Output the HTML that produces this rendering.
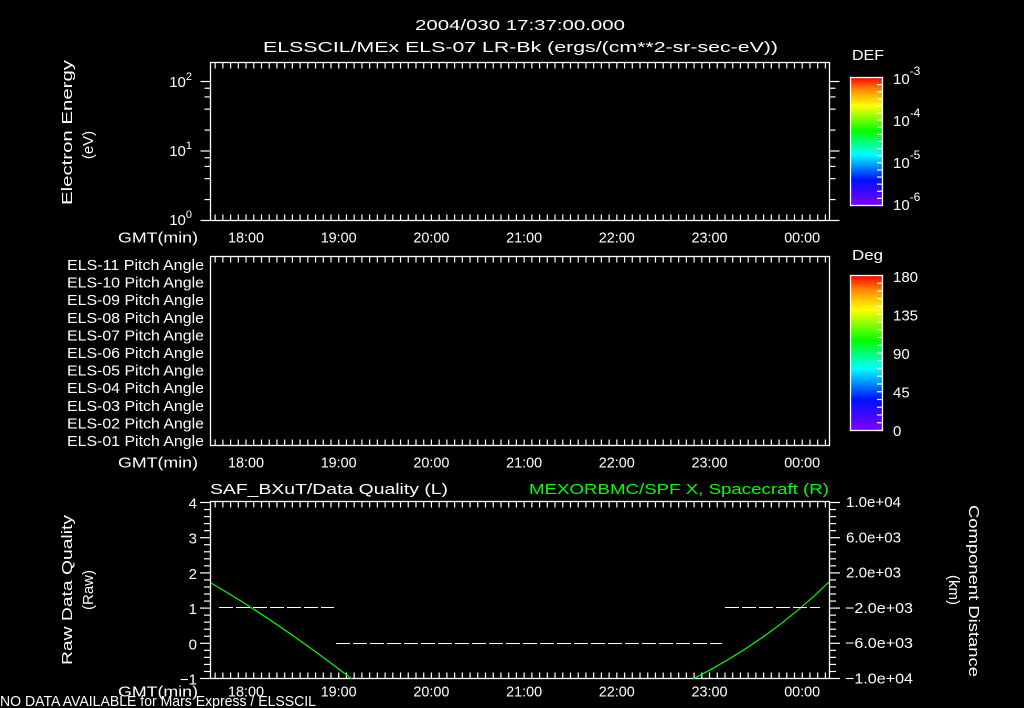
<!DOCTYPE html>
<html><head><meta charset="utf-8"><style>
html,body{margin:0;padding:0;background:#000;width:1024px;height:708px;overflow:hidden}
svg{display:block}
text{font-family:"Liberation Sans",sans-serif;fill:#fff;font-size:15px}
</style></head><body>
<svg id="s" width="1024" height="708" xmlns="http://www.w3.org/2000/svg">
<defs>
<linearGradient id="rb" x1="0" y1="1" x2="0" y2="0">
<stop offset="0" stop-color="#8000ff"/>
<stop offset="0.2" stop-color="#0010ff"/>
<stop offset="0.4" stop-color="#00ffff"/>
<stop offset="0.58" stop-color="#00ff00"/>
<stop offset="0.78" stop-color="#ffff00"/>
<stop offset="0.9" stop-color="#ff9000"/>
<stop offset="1" stop-color="#ff0000"/>
</linearGradient>
</defs>
<text x="415" y="30" font-size="17" textLength="210" lengthAdjust="spacingAndGlyphs">2004/030 17:37:00.000</text>
<text x="263" y="52" font-size="17" textLength="515" lengthAdjust="spacingAndGlyphs">ELSSCIL/MEx ELS-07 LR-Bk  (ergs/(cm**2-sr-sec-eV))</text>
<g fill="none" stroke="#fff" stroke-width="1.3">
<rect x="210.5" y="62.5" width="619" height="158"/>
<rect x="210.5" y="256.5" width="619" height="189"/>
<rect x="210.5" y="501.5" width="619" height="177"/>
<rect x="850.5" y="77.5" width="32" height="128" fill="url(#rb)"/>
<rect x="850.5" y="275.5" width="32" height="155" fill="url(#rb)"/>
</g>
<g id="g" stroke="#fff" stroke-width="1.2"></g>
<g id="t"></g>
<text transform="translate(72,205) rotate(-90)" textLength="145" lengthAdjust="spacingAndGlyphs">Electron Energy</text>
<text transform="translate(93,145) rotate(-90)" text-anchor="middle" font-size="16">(eV)</text>
<text transform="translate(72,665) rotate(-90)" textLength="150" lengthAdjust="spacingAndGlyphs">Raw Data Quality</text>
<text transform="translate(93,590) rotate(-90)" text-anchor="middle" font-size="16">(Raw)</text>
<text transform="translate(969,505) rotate(90)" textLength="172" lengthAdjust="spacingAndGlyphs">Component Distance</text>
<text transform="translate(949,590) rotate(90)" text-anchor="middle" font-size="16">(km)</text>
<text x="210" y="494" font-size="16" textLength="238" lengthAdjust="spacingAndGlyphs">SAF_BXuT/Data Quality (L)</text>
<text x="529" y="494" font-size="16" textLength="300" lengthAdjust="spacingAndGlyphs" style="fill:#00ff00">MEXORBMC/SPF X, Spacecraft (R)</text>
<text x="852" y="60" font-size="16" textLength="32" lengthAdjust="spacingAndGlyphs">DEF</text>
<text x="852" y="260" font-size="16" textLength="31" lengthAdjust="spacingAndGlyphs">Deg</text>
<text x="0" y="706" font-size="13" textLength="316" lengthAdjust="spacingAndGlyphs">NO DATA AVAILABLE for Mars  Express / ELSSCIL</text>
<path d="M211,583 Q275,620 352,679" stroke="#00ff00" fill="none" stroke-width="1.2"/>
<path d="M693,679 Q770,640 829,582" stroke="#00ff00" fill="none" stroke-width="1.2"/>
<g stroke="#fff" stroke-width="1" stroke-dasharray="14,3" shape-rendering="crispEdges">
<line x1="219" y1="607.5" x2="334" y2="607.5"/>
<line x1="336" y1="643.5" x2="722" y2="643.5"/>
<line x1="725" y1="607.5" x2="820" y2="607.5"/>
</g>
</svg>
<script>
var g=document.getElementById('g'),t=document.getElementById('t');
function L(a,b,c,d){var e=document.createElementNS('http://www.w3.org/2000/svg','line');e.setAttribute('x1',a);e.setAttribute('y1',b);e.setAttribute('x2',c);e.setAttribute('y2',d);g.appendChild(e);}
function T(x,y,s,a,fs,tl){var e=document.createElementNS('http://www.w3.org/2000/svg','text');e.setAttribute('x',x);e.setAttribute('y',y);if(a)e.setAttribute('text-anchor',a);if(fs)e.setAttribute('font-size',fs);if(tl){e.setAttribute('textLength',tl);e.setAttribute('lengthAdjust','spacingAndGlyphs');}e.innerHTML=s;t.appendChild(e);}
var x0=210.5,px=92.7/60;
[[62.5,220.5,22],[256.5,445.5,22],[501.5,678.5,18]].forEach(function(p){
 for(var m=-20;m<=420;m+=5){var x=x0+(m+3)*px;if(x<211||x>829)continue;var mm=((m+3)%60+60)%60;var h=mm==0?12:(mm==30?8:6);if(mm%15==0&&h==6)h=8;L(x,p[0],x,p[0]+h);L(x,p[1],x,p[1]-h);}
 var hrs=['18:00','19:00','20:00','21:00','22:00','23:00','00:00'];
 for(var i=0;i<7;i++){T(228+i*92.7,p[1]+p[2],hrs[i],null,16,36);}
 T(118,p[1]+p[2],'GMT(min)',null,15,80);
});
for(var d=0;d<3;d++){[1,2,4,6,8].forEach(function(k){var y=220.5-(d+Math.log10(k))*69.5;if(y<62)return;var w=k==1?10:6;L(210.5,y,210.5-w,y);L(829.5,y,829.5+w,y);});}
T(192,225,'10<tspan dy="-7" font-size="11">0</tspan>','end',17);
T(192,156,'10<tspan dy="-7" font-size="11">1</tspan>','end',17);
T(192,87,'10<tspan dy="-7" font-size="11">2</tspan>','end',17);
for(var v=-1;v<=4.001;v+=0.2){var y=678.5-(v+1)*35.2;var maj=Math.abs(v-Math.round(v))<0.01;L(210.5,y,maj?200:204,y);L(829.5,y,maj?840:836,y);}
for(var v=-1;v<=4;v++){T(197,678.5-(v+1)*35.2+6,v<0?'\u22121':''+v,'end',16);}
var rl=['1.0e+04','6.0e+03','2.0e+03','\u22122.0e+03','\u22126.0e+03','\u22121.0e+04'];
for(var i=0;i<6;i++)T(i<3?846:845,507+i*35.3,rl[i],null,15,i<3?55:68);
for(var i=0;i<=18;i++){var y=77.5+i*128/18;L(882.5,y,877,y);}
for(var i=0;i<=20;i++){var y=275.5+i*155/20;L(882.5,y,877,y);}
var dl=['-3','-4','-5','-6'];for(var i=0;i<4;i++)T(893,84+i*42,'10<tspan dy="-9" font-size="12">'+dl[i]+'</tspan>',null,19);
var gl=['180','135','90','45','0'];for(var i=0;i<5;i++)T(893,282+i*38.5,gl[i],null,19);
for(var i=11;i>=1;i--){T(67,270+(11-i)*17.6,'ELS-'+(i<10?'0':'')+i+' Pitch Angle',null,14,137);}
</script>
</body></html>
